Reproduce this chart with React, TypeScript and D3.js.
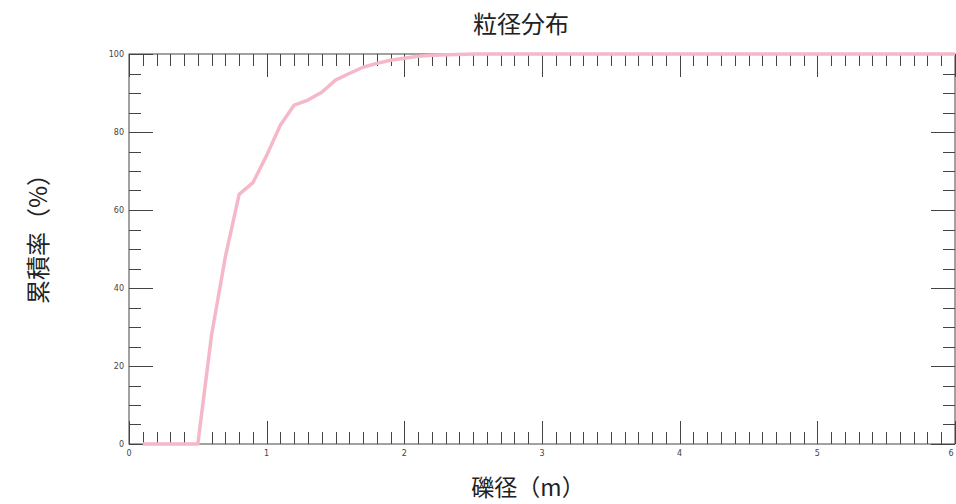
import React from "react";
import * as d3 from "d3";

const diameters = [0.1, 0.2, 0.3, 0.4, 0.5, 0.6, 0.7, 0.8, 0.9, 1.0, 1.1, 1.2, 1.3, 1.4, 1.5, 1.6, 1.7, 1.8, 1.9, 2.0, 2.1, 2.2, 2.5, 3.0, 4.0, 5.0, 6.0];
const cumulative = [0, 0, 0, 0, 0, 28, 48, 64, 67, 74, 81.8, 86.9, 88.2, 90.2, 93.3, 95.0, 96.6, 97.6, 98.4, 98.9, 99.4, 99.7, 100, 100, 100, 100, 100];
const xMajorTicks = [0, 1, 2, 3, 4, 5, 6];
const yMajorTicks = [0, 20, 40, 60, 80, 100];

const title = "粒径分布";
const xLabel = "礫径（m）";
const yLabel = "累積率（%）";

export default function App() {
  const W = 956, H = 504;
  const left = 129, right = 955, top = 54, bottom = 444;
  const x = d3.scaleLinear().domain([0, 6]).range([left, right]);
  const y = d3.scaleLinear().domain([0, 100]).range([bottom, top]);
  const line = d3.line<number>().x((d, i) => x(diameters[i])).y((d) => y(d));
  const xMinor = d3.range(0, 61).map((i) => i / 10);
  const yMinor = d3.range(0, 21).map((i) => i * 5);
  const tickColor = "#444";
  const font = "'Noto Sans CJK JP', 'Noto Sans', sans-serif";
  return (
    <svg width={W} height={H} style={{ position: "absolute", left: 0, top: 0, background: "#fff" }}>
      <text x={521} y={33} textAnchor="middle" fontFamily={font} fontSize={24} fill="#222">{title}</text>
      {/* frame */}
      <rect x={left} y={top} width={right - left} height={bottom - top} fill="none" stroke={tickColor} strokeWidth={1} />
      {/* x ticks */}
      {xMinor.map((v, i) => {
        const major = i % 10 === 0;
        const len = major ? 23 : 12;
        const px = Math.round(x(v)) + 0.5;
        return (
          <g key={"xt" + i}>
            <line x1={px} x2={px} y1={bottom} y2={bottom - len} stroke={tickColor} strokeWidth={1} />
            <line x1={px} x2={px} y1={top} y2={top + len} stroke={tickColor} strokeWidth={1} />
          </g>
        );
      })}
      {yMinor.map((v, i) => {
        const major = i % 4 === 0;
        const len = major ? 24 : 12;
        const py = Math.round(y(v)) + 0.5;
        return (
          <g key={"yt" + i}>
            <line x1={left} x2={left + len} y1={py} y2={py} stroke={tickColor} strokeWidth={1} />
            <line x1={right} x2={right - len} y1={py} y2={py} stroke={tickColor} strokeWidth={1} />
          </g>
        );
      })}
      {xMajorTicks.map((v, i) => (
        <text key={"xl" + v} x={i === xMajorTicks.length - 1 ? x(v) - 4 : x(v)} y={bottom + 12} textAnchor="middle" fontFamily="'DejaVu Sans', sans-serif" fontSize={8} fill="#444">{v}</text>
      ))}
      {yMajorTicks.map((v) => (
        <text key={"yl" + v} x={left - 5} y={y(v) + 3} textAnchor="end" fontFamily="'DejaVu Sans', sans-serif" fontSize={8} fill="#444">{v}</text>
      ))}
      <path d={line(cumulative) || ""} fill="none" stroke="#f5b8c9" strokeWidth={3.5} strokeLinejoin="round" />
      <text x={528} y={496} textAnchor="middle" fontFamily={font} fontSize={23} fill="#222">{xLabel}</text>
      <text transform={`translate(47,233) rotate(-90)`} textAnchor="middle" fontFamily={font} fontSize={24} fill="#222">{yLabel}</text>
    </svg>
  );
}
